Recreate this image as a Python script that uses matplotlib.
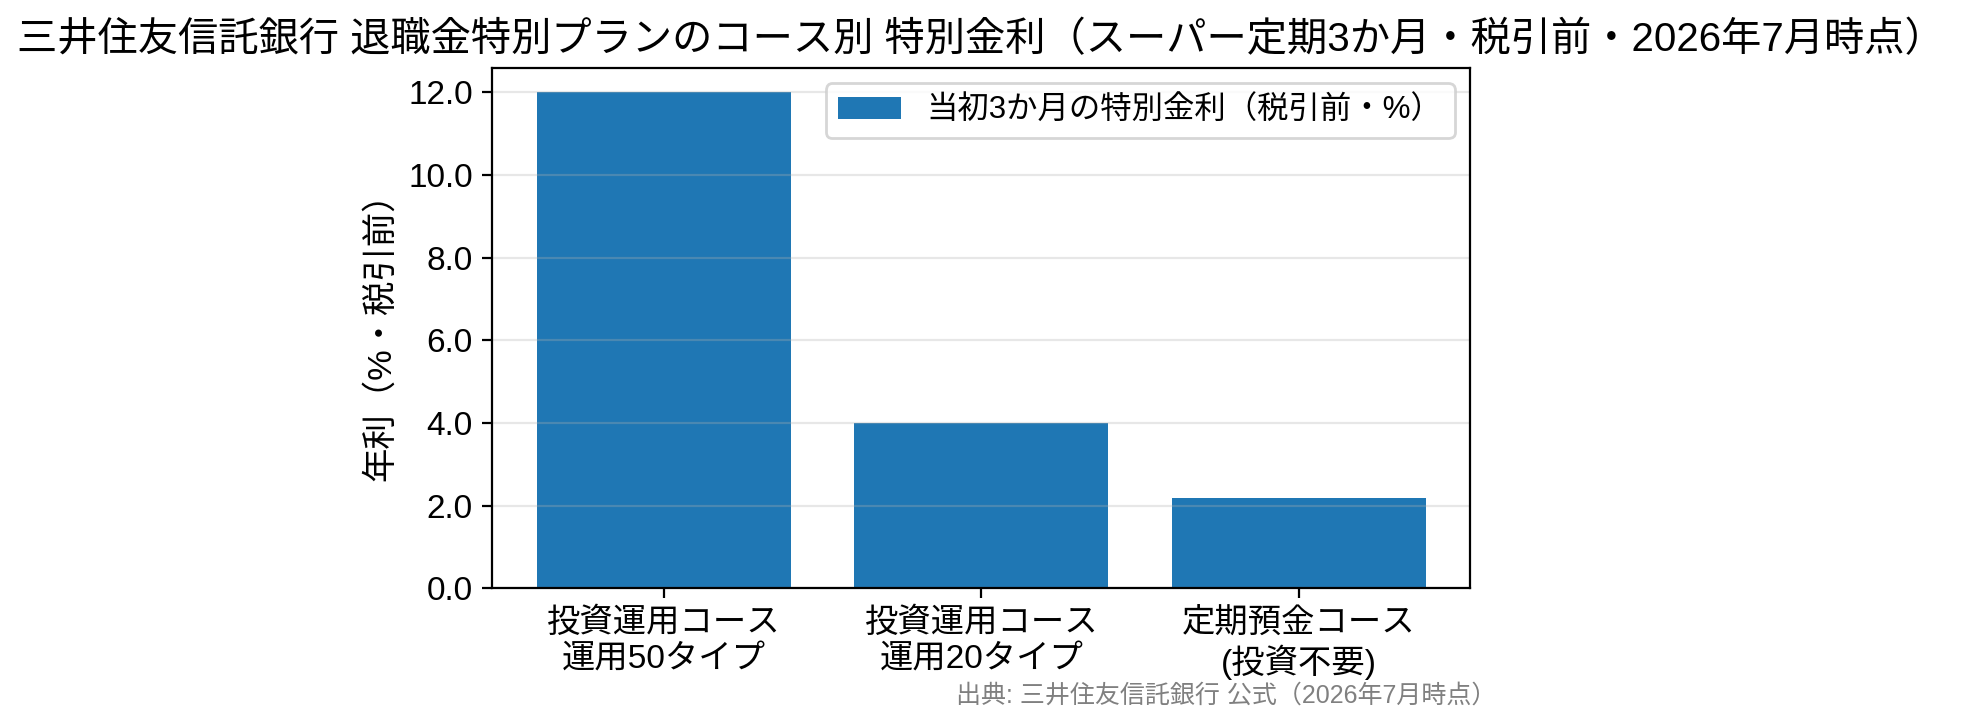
import numpy as np
import matplotlib
matplotlib.use("Agg")
import matplotlib.pyplot as plt

# Data
courses = ["投資運用コース\n運用50タイプ", "投資運用コース\n運用20タイプ", "定期預金コース\n(投資不要)"]
rates = [12.0, 4.0, 2.2]
seriesLabel = "当初3か月の特別金利（税引前・%）"

plt.rcParams['font.family'] = ['Liberation Sans', 'Noto Sans CJK JP']

fig = plt.figure(figsize=(9.82, 3.625), dpi=200)
ax = fig.add_axes([0.2506, 0.1883, 0.4981, 0.7184])

x = np.arange(len(courses))
ax.bar(x, rates, width=0.8, color="#1f77b4", label=seriesLabel)
ax.set_xticks(x)
ax.set_xticklabels(courses, fontsize=12)
ax.yaxis.set_major_formatter(matplotlib.ticker.FormatStrFormatter("%.1f"))
ax.tick_params(axis="y", labelsize=12)
ax.set_ylabel("年利（%・税引前）", fontsize=12.4)
ax.grid(axis="y", alpha=0.3)
ax.legend(loc="upper right", fontsize=11.3)
ax.set_title("三井住友信託銀行 退職金特別プランのコース別 特別金利（スーパー定期3か月・税引前・2026年7月時点）", fontsize=14.5)

fig.text(0.762, 0.04, "出典: 三井住友信託銀行 公式（2026年7月時点）", ha="right", va="center", fontsize=9, color="gray")

fig.savefig("out.png", dpi=200)
